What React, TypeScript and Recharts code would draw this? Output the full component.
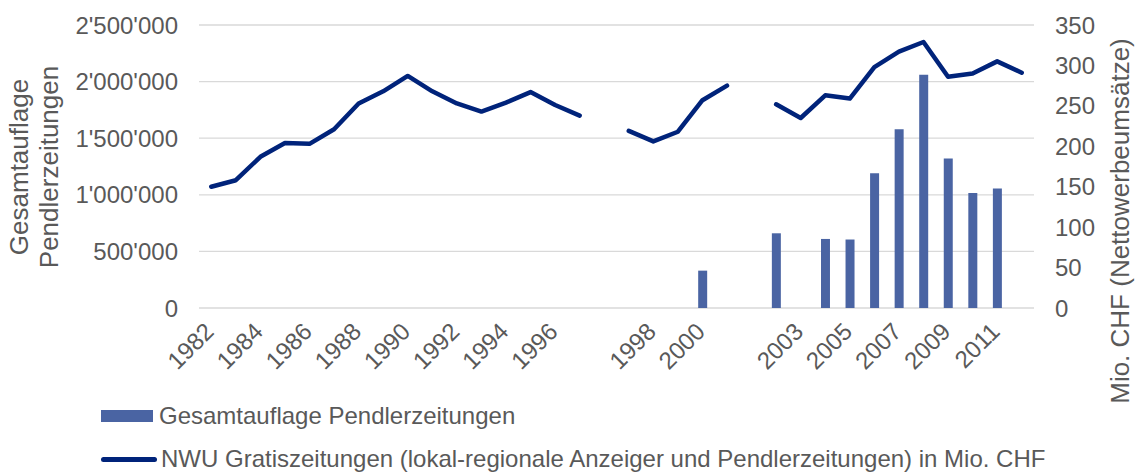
import React from "react";
import {
  ComposedChart,
  Bar,
  Line,
  XAxis,
  YAxis,
  CartesianGrid,
} from "recharts";

// category slots (empty strings are the blank gap columns)
const years = [
  "1982", "1983", "1984", "1985", "1986", "1987", "1988", "1989", "1990",
  "1991", "1992", "1993", "1994", "1995", "1996", "1997", "", "1997",
  "1998", "1999", "2000", "2001", "", "2002", "2003", "2004", "2005",
  "2006", "2007", "2008", "2009", "2010", "2011", "2012",
];

// Gesamtauflage Pendlerzeitungen (left axis)
const auflage = [
  null, null, null, null, null, null, null, null, null,
  null, null, null, null, null, null, null, null, null,
  null, null, 330000, null, null, 660000, null, 610000, 605000,
  1190000, 1580000, 2060000, 1320000, 1015000, 1055000, null,
];

// NWU Gratiszeitungen in Mio. CHF (right axis)
const nwu = [
  150, 158, 187, 204, 203, 221, 253, 268, 287,
  268, 253, 243, 254, 267, 251, 238, null, 219,
  206, 218, 257, 275, null, 252, 235, 263, 259,
  298, 317, 329, 286, 290, 305, 291,
];

const leftTicks = [0, 500000, 1000000, 1500000, 2000000, 2500000];
const rightTicks = [0, 50, 100, 150, 200, 250, 300, 350];

const BAR_COLOR = "#4A64A3";
const LINE_COLOR = "#00237A";
const TEXT_COLOR = "#595959";
const FONT = "'Liberation Sans', Arial, sans-serif";

const data = years.map((year, i) => ({
  year,
  auflage: auflage[i],
  nwu: nwu[i],
}));

const fmt = (n: number) => String(n).replace(/\B(?=(\d{3})+(?!\d))/g, "'");

const XTick = ({ x, y, payload }: any) => {
  const tx = x + 4;
  const ty = y + 25;
  return (
    <text
      x={tx}
      y={ty}
      transform={`rotate(-45, ${tx}, ${ty})`}
      textAnchor="end"
      fill={TEXT_COLOR}
      fontSize={24}
      fontFamily={FONT}
    >
      {payload.value}
    </text>
  );
};

export default function App() {
  return (
    <div
      style={{
        position: "absolute",
        left: 0,
        top: 0,
        width: 1137,
        height: 473,
        background: "#fff",
        fontFamily: FONT,
      }}
    >
      <ComposedChart
        width={1137}
        height={473}
        data={data}
        margin={{ top: 25, right: 0, bottom: 0, left: 0 }}
      >
        <CartesianGrid
          vertical={false}
          stroke="#d9d9d9"
          strokeWidth={1.3}
          yAxisId="left"
        />
        <XAxis
          dataKey="year"
          interval={1}
          height={165}
          axisLine={false}
          tickLine={false}
          tickSize={0}
          tickMargin={0}
          tick={<XTick />}
        />
        <YAxis
          yAxisId="left"
          width={199}
          domain={[0, 2500000]}
          ticks={leftTicks}
          tickFormatter={fmt}
          axisLine={false}
          tickLine={false}
          tickSize={0}
          tickMargin={21}
          tick={{ fill: TEXT_COLOR, fontSize: 24, fontFamily: FONT }}
          label={{
            content: () => (
              <g fill={TEXT_COLOR} fontSize={26} fontFamily={FONT}>
                <text x={28} y={167} textAnchor="middle" transform="rotate(-90, 28, 167)">
                  Gesamtauflage
                </text>
                <text x={58} y={167} textAnchor="middle" transform="rotate(-90, 58, 167)">
                  Pendlerzeitungen
                </text>
              </g>
            ),
          }}
        />
        <YAxis
          yAxisId="right"
          orientation="right"
          width={103}
          domain={[0, 350]}
          ticks={rightTicks}
          axisLine={false}
          tickLine={false}
          tickSize={0}
          tickMargin={21}
          tick={{ fill: TEXT_COLOR, fontSize: 24, fontFamily: FONT }}
          label={{
            content: () => (
              <text
                x={1129}
                y={221}
                textAnchor="middle"
                transform="rotate(-90, 1129, 221)"
                fill={TEXT_COLOR}
                fontSize={26}
                fontFamily={FONT}
              >
                Mio. CHF (Nettowerbeumsätze)
              </text>
            ),
          }}
        />
        <Bar
          yAxisId="left"
          dataKey="auflage"
          name="Gesamtauflage Pendlerzeitungen"
          fill={BAR_COLOR}
          barSize={9}
          isAnimationActive={false}
        />
        <Line
          yAxisId="right"
          dataKey="nwu"
          name="NWU Gratiszeitungen (lokal-regionale Anzeiger und Pendlerzeitungen) in Mio. CHF"
          type="linear"
          stroke={LINE_COLOR}
          strokeWidth={4.5}
          strokeLinecap="round"
          strokeLinejoin="round"
          dot={false}
          activeDot={false}
          isAnimationActive={false}
        />
      </ComposedChart>

      {/* legend */}
      <div
        style={{
          position: "absolute",
          left: 101,
          top: 402,
          color: TEXT_COLOR,
          fontSize: 24,
          lineHeight: "28px",
        }}
      >
        <div style={{ display: "flex", alignItems: "center", height: 28 }}>
          <span
            style={{ width: 52, height: 12, background: BAR_COLOR, marginRight: 6 }}
          />
          Gesamtauflage Pendlerzeitungen
        </div>
        <div style={{ display: "flex", alignItems: "center", height: 28, marginTop: 15 }}>
          <span
            style={{
              width: 56,
              height: 5,
              borderRadius: 3,
              background: LINE_COLOR,
              marginRight: 4,
            }}
          />
          NWU Gratiszeitungen (lokal-regionale Anzeiger und Pendlerzeitungen) in Mio. CHF
        </div>
      </div>
    </div>
  );
}
